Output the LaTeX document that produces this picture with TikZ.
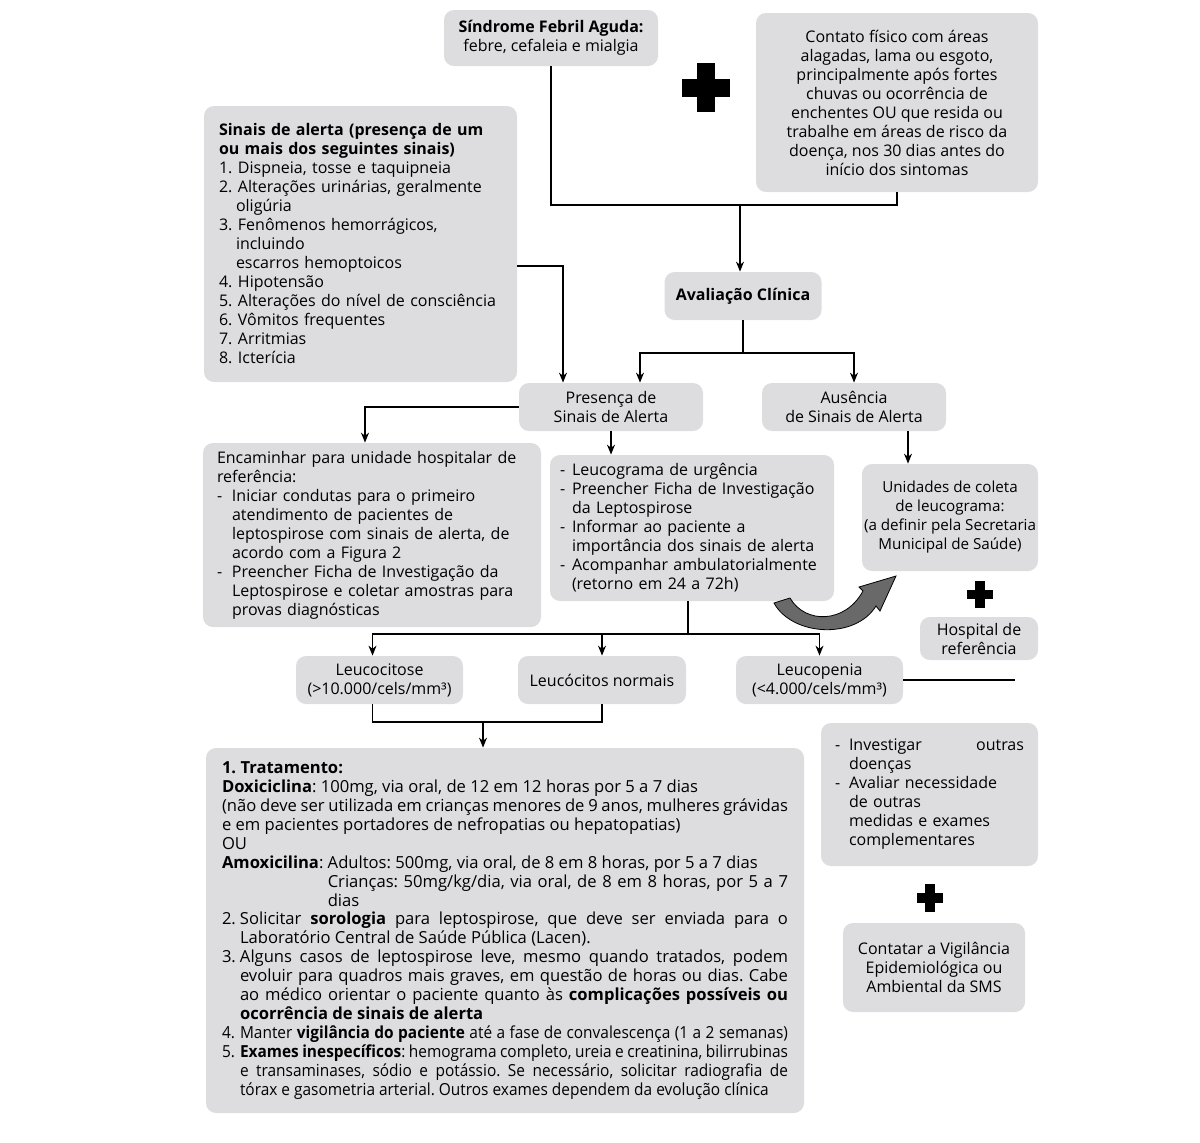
\documentclass[tikz,border=0pt]{standalone}
\usepackage{fontspec}
\setmainfont{Open Sans}
\newfontfamily\narrowfont[FakeStretch=0.93]{Open Sans}
\usepackage{tikz}
\usetikzlibrary{arrows.meta}
\definecolor{boxgray}{RGB}{221,221,223}
\definecolor{arrowgray}{RGB}{105,105,105}
\newlength{\amoxwidth}
\newcommand{\itemlead}[2]{\makebox[#1][l]{#2}}
\frenchspacing

\tikzset{
  box/.style={fill=boxgray, rounded corners=5pt, inner sep=0pt, align=center,
    font=\fontsize{8}{9.5}\selectfont},
  leftbox/.style={box, align=left},
  link/.style={line width=0.6pt},
  flow/.style={line width=0.6pt, -{Stealth[length=5pt,width=4pt]}},
}

\begin{document}
\begin{tikzpicture}[x=0.5pt,y=-0.5pt]
\useasboundingbox (0,0) rectangle (1200,1142);
% Top row
\node[box, minimum width=107pt, minimum height=28pt] (sfa) at (551,38)
  {\textbf{Síndrome Febril Aguda:}\\febre, cefaleia e mialgia};
\node[box, minimum width=141pt, minimum height=89.5pt] (contato) at (897,102.5)
  {Contato físico com áreas\\alagadas, lama ou esgoto,\\principalmente após fortes\\chuvas ou ocorrência de\\enchentes OU que resida ou\\trabalhe em áreas de risco da\\doença, nos 30 dias antes do\\início dos sintomas};
% Big plus
\fill (682,79) rectangle (730,97);
\fill (697,63) rectangle (715,112);
% Warning signs
\node[leftbox, minimum width=156.5pt, minimum height=138pt, text width=141.5pt] (alerta) at (360.5,244)
  {\textbf{Sinais de alerta (presença de um}\\
   \textbf{ou mais dos seguintes sinais)}\\
   \itemlead{9.5pt}{1.}Dispneia, tosse e taquipneia\\
   \itemlead{9.5pt}{2.}Alterações urinárias, geralmente\\
   \itemlead{8.5pt}{}oligúria\\
   \itemlead{9.5pt}{3.}Fenômenos hemorrágicos,\\
   \itemlead{8.5pt}{}incluindo\\
   \itemlead{8.5pt}{}escarros hemoptoicos\\
   \itemlead{9.5pt}{4.}Hipotensão\\
   \itemlead{9.5pt}{5.}Alterações do nível de consciência\\
   \itemlead{9.5pt}{6.}Vômitos frequentes\\
   \itemlead{9.5pt}{7.}Arritmias\\
   \itemlead{9.5pt}{8.}Icterícia};
% Clinical evaluation
\node[box, minimum width=78.5pt, minimum height=24pt] (aval) at (743,296)
  {\textbf{Avaliação Clínica}};
\node[box, minimum width=92pt, minimum height=24pt] (presenca) at (611,407)
  {Presença de\\Sinais de Alerta};
\node[box, minimum width=92pt, minimum height=24pt] (ausencia) at (854,407)
  {Ausência\\de Sinais de Alerta};
% Middle row
\node[leftbox, minimum width=169pt, minimum height=92pt, text width=155pt] (encaminhar) at (372,535)
  {Encaminhar para unidade hospitalar de\\referência:\\
   \itemlead{7.5pt}{-}Iniciar condutas para o primeiro\\
   \itemlead{7.5pt}{}atendimento de pacientes de\\
   \itemlead{7.5pt}{}leptospirose com sinais de alerta, de\\
   \itemlead{7.5pt}{}acordo com a Figura 2\\
   \itemlead{7.5pt}{-}Preencher Ficha de Investigação da\\
   \itemlead{7.5pt}{}Leptospirose e coletar amostras para\\
   \itemlead{7.5pt}{}provas diagnósticas};
\node[leftbox, minimum width=142pt, minimum height=73pt, text width=132pt] (leucograma) at (692,528)
  {\itemlead{6pt}{-}Leucograma de urgência\\
   \itemlead{6pt}{-}Preencher Ficha de Investigação\\
   \itemlead{6pt}{}da Leptospirose\\
   \itemlead{6pt}{-}Informar ao paciente a\\
   \itemlead{6pt}{}importância dos sinais de alerta\\
   \itemlead{6pt}{-}Acompanhar ambulatorialmente\\
   \itemlead{6pt}{}(retorno em 24 a 72h)};
\node[box, font=\fontsize{7.6}{9.5}\selectfont, minimum width=88pt, minimum height=53.5pt] (unidades) at (950,517.5)
  {Unidades de coleta\\de leucograma:\\(a definir pela Secretaria\\Municipal de Saúde)};
% Small plus
\fill (967,590) rectangle (993,599);
\fill (975,581) rectangle (985,608);
\node[box, minimum width=59pt, minimum height=21.5pt] (hospital) at (979,638.5)
  {Hospital de\\referência};
% Curved arrow
\filldraw[fill=arrowgray, draw=black, line width=0.4pt]
  (774,603) -- (790,598) .. controls (805,624) and (845,624) .. (863,591)
  -- (859,587) -- (896,576) -- (880,611) -- (876,606)
  .. controls (855,640) and (792,636) .. (774,603) -- cycle;
% Leukogram results
\node[box, minimum width=83.5pt, minimum height=24pt] (leucocitose) at (379.5,680)
  {Leucocitose\\(>10.000/cels/mm³)};
\node[box, minimum width=84pt, minimum height=24pt] (normais) at (602,680)
  {Leucócitos normais};
\node[box, minimum width=83.5pt, minimum height=24pt] (leucopenia) at (819.5,680)
  {Leucopenia\\(<4.000/cels/mm³)};
% Treatment
\node[box, font=\fontsize{8.3}{9.45}\selectfont, align=justify, minimum width=299pt, minimum height=182.5pt, text width=283pt] (tratamento) at (505,930.5)
  {\settowidth{\amoxwidth}{\textbf{Amoxicilina}:\ }%
   \noindent\textbf{1. Tratamento:}\\
   \textbf{Doxiciclina}: 100mg, via oral, de 12 em 12 horas por 5 a 7 dias\\
   (não deve ser utilizada em crianças menores de 9 anos, mulheres grávidas\linebreak
   e em pacientes portadores de nefropatias ou hepatopatias)\\
   OU\par
   {\hangindent=\amoxwidth\hangafter=1\noindent
   \textbf{Amoxicilina}: Adultos: 500mg, via oral, de 8 em 8 horas, por 5 a 7 dias\\
   Crianças: 50mg/kg/dia, via oral, de 8 em 8 horas, por 5 a 7\linebreak dias\par}
   {\hangindent=9pt\hangafter=1\noindent
   \itemlead{9pt}{2.}Solicitar \textbf{sorologia} para leptospirose, que deve ser enviada para o\linebreak
   Laboratório Central de Saúde Pública (Lacen).\par}
   {\hangindent=9pt\hangafter=1\noindent
   \itemlead{9pt}{3.}Alguns casos de leptospirose leve, mesmo quando tratados, podem\linebreak
   evoluir para quadros mais graves, em questão de horas ou dias. Cabe\linebreak
   ao médico orientar o paciente quanto às \textbf{complicações possíveis ou}\linebreak
   \textbf{ocorrência de sinais de alerta}\par}
   {\narrowfont\parfillskip=0pt\hangindent=9pt\hangafter=1\noindent
   \itemlead{9pt}{4.}Manter \textbf{vigilância do paciente} até a fase de convalescença (1 a 2 semanas)\par}
   {\narrowfont\hangindent=9pt\hangafter=1\noindent
   \itemlead{9pt}{5.}\textbf{Exames inespecíficos}: hemograma completo, ureia e creatinina, bilirrubinas\linebreak
   e transaminases, sódio e potássio. Se necessário, solicitar radiografia de\linebreak
   tórax e gasometria arterial. Outros exames dependem da evolução clínica\par}};
% Right column
\node[leftbox, minimum width=108.5pt, minimum height=71.5pt, text width=94.5pt] (investigar) at (929.5,794.5)
  {\itemlead{7pt}{-}Investigar\hfill outras\\
   \itemlead{7pt}{}doenças\\
   \itemlead{7pt}{-}Avaliar necessidade\\
   \itemlead{7pt}{}de outras\\
   \itemlead{7pt}{}medidas e exames\\
   \itemlead{7pt}{}complementares};
\fill (917,893) rectangle (943,903);
\fill (925,884) rectangle (935,912);
\node[box, minimum width=91pt, minimum height=44.5pt] (contatar) at (934,967.5)
  {Contatar a Vigilância\\Epidemiológica ou\\Ambiental da SMS};
% Connectors
\coordinate (topjoin) at (740,205);
\draw[link] (sfa.south) |- (topjoin);
\draw[link] (contato.south) |- (topjoin);
\draw[flow] (topjoin) -- (topjoin |- aval.north);
\coordinate (avaljoin) at (743,353);
\draw[link] (aval.south) -- (avaljoin);
\draw[flow] (avaljoin) -| ([xshift=14.5pt]presenca.north);
\draw[flow] (avaljoin) -| (ausencia.north);
\draw[flow] ([yshift=-11pt]alerta.east) -| ([xshift=-24pt]presenca.north);
\draw[flow] (presenca.west) -| ([xshift=-3.5pt]encaminhar.north);
\draw[flow] (presenca.south) -- (presenca.south |- leucograma.north);
\draw[flow] ([xshift=27pt]ausencia.south) -- ([xshift=27pt]ausencia.south |- unidades.north);
\coordinate (leucojoin) at (688,634);
\draw[link] (leucograma.south -| leucojoin) -- (leucojoin);
\draw[flow] (leucojoin) -| ([xshift=-3.5pt]leucocitose.north);
\draw[flow] (leucojoin) -| (normais.north);
\draw[flow] (leucojoin) -| (leucopenia.north);
\coordinate (leucopeniaend) at (1015,680);
\draw[link] (leucopenia.east) -- (leucopeniaend);
\coordinate (tratjoin) at (483,722);
\draw[link] ([xshift=-3.5pt]leucocitose.south) |- (tratjoin);
\draw[link] (normais.south) |- (tratjoin);
\draw[flow] (tratjoin) -- (tratjoin |- tratamento.north);
\end{tikzpicture}
\end{document}
